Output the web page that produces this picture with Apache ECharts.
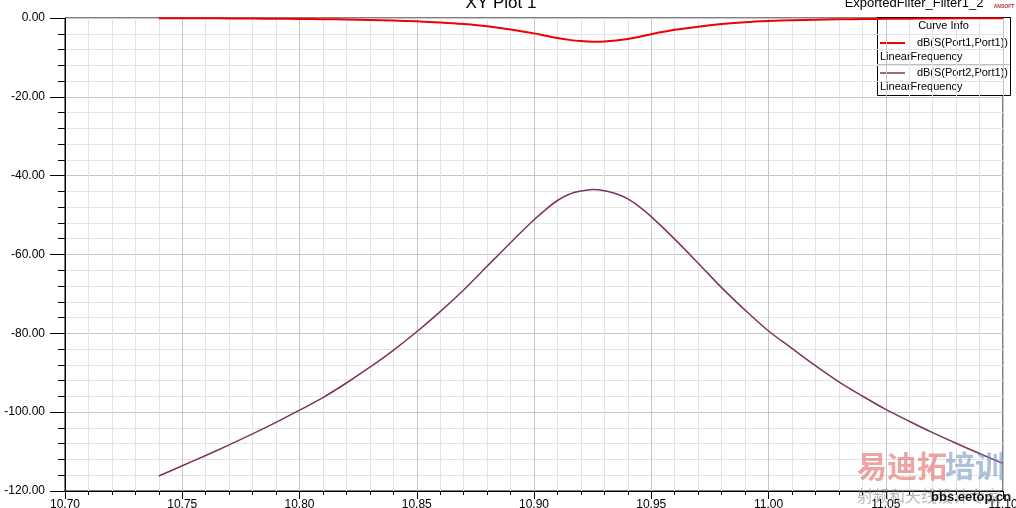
<!DOCTYPE html>
<html>
<head>
<meta charset="utf-8">
<script src="https://cdn.jsdelivr.net/npm/echarts@6/dist/echarts.min.js"></script>
<style>
  html, body { margin: 0; padding: 0; background: #fff; }
  #main { width: 1016px; height: 508px; }
</style>
</head>
<body>
<div id="main"></div>
<script>
// frequency points (GHz)
var freq = [10.74, 10.75, 10.76, 10.77, 10.78, 10.79, 10.80, 10.81, 10.82, 10.83,
  10.84, 10.85, 10.86, 10.87, 10.88, 10.89, 10.90, 10.905, 10.91, 10.915,
  10.92, 10.925, 10.93, 10.935, 10.94, 10.945, 10.95, 10.96, 10.97, 10.98,
  10.99, 11.00, 11.01, 11.02, 11.03, 11.04, 11.05, 11.06, 11.07, 11.08,
  11.09, 11.10];
// dB(S(Port1,Port1))
var s11 = [-0.05, -0.06, -0.08, -0.11, -0.14, -0.18, -0.23, -0.30, -0.38, -0.50,
  -0.64, -0.85, -1.15, -1.55, -2.1, -2.9, -3.9, -4.5, -5.1, -5.55,
  -5.85, -6.0, -5.95, -5.7, -5.3, -4.75, -4.1, -3.0, -2.2, -1.55,
  -1.05, -0.75, -0.56, -0.43, -0.34, -0.27, -0.21, -0.16, -0.12, -0.09,
  -0.07, -0.05];
// dB(S(Port2,Port1))
var s21 = [-116.2, -113.6, -111.0, -108.3, -105.5, -102.6, -99.5, -96.3, -92.6, -88.6,
  -84.3, -79.6, -74.5, -69.0, -63.0, -57.0, -51.2, -48.6, -46.3, -44.7,
  -43.9, -43.5, -43.8, -44.6, -45.9, -47.9, -50.4, -56.1, -62.2, -68.4,
  -74.1, -79.4, -83.8, -88.2, -92.3, -95.9, -99.3, -102.3, -105.2, -107.9,
  -110.5, -113.0];

var xTicks = { min: 10.70, max: 11.10, step: 0.05 };
var yTicks = { min: -120, max: 0, step: 20 };

var seriesNames = ['dB(S(Port1,Port1))', 'dB(S(Port2,Port1))'];
var seriesColors = ['#f00000', '#7b3461'];

function pairs(ys) {
  return freq.map(function (f, i) { return [f, ys[i]]; });
}

var font = 'Liberation Sans, Arial, sans-serif';
var chart = echarts.init(document.getElementById('main'));

// 图例框 (Curve Info)
var lg = { x: 877, y: 17, w: 133, h: 78 };
var legendItems = [];
legendItems.push({ type: 'rect', shape: { x: lg.x + 0.5, y: lg.y + 0.5, width: lg.w, height: lg.h },
  style: { fill: '#fff', stroke: '#000', lineWidth: 1 } });
legendItems.push({ type: 'text', x: lg.x + lg.w / 2, y: 26,
  style: { text: 'Curve Info', font: '11px ' + font, fill: '#000', align: 'center', verticalAlign: 'middle' } });
legendItems.push({ type: 'line', shape: { x1: lg.x, y1: 64.5, x2: lg.x + lg.w, y2: 64.5 },
  style: { stroke: '#c0c0c0', lineWidth: 1 } });
for (var k = 0; k < 2; k++) {
  var yy = 43 + k * 30;
  legendItems.push({ type: 'line', shape: { x1: 880, y1: yy, x2: 905, y2: yy },
    style: { stroke: seriesColors[k], lineWidth: k === 0 ? 2 : 1.5 } });
  legendItems.push({ type: 'text', x: 1008, y: yy,
    style: { text: seriesNames[k], font: '11px ' + font, fill: '#000', align: 'right', verticalAlign: 'middle' } });
  legendItems.push({ type: 'text', x: 880, y: yy + 14,
    style: { text: 'LinearFrequency', font: '11px ' + font, fill: '#000', align: 'left', verticalAlign: 'middle' } });
}

chart.setOption({
  backgroundColor: '#fff',
  animation: false,
  grid: { left: 65, right: 13, top: 18, bottom: 17, outerBoundsMode: 'none', containLabel: false,
    show: true, borderColor: '#000', borderWidth: 1 },
  xAxis: {
    type: 'value',
    min: xTicks.min, max: xTicks.max, interval: xTicks.step,
    axisLine: { onZero: false, lineStyle: { color: '#000', width: 1 } },
    axisTick: { show: true, length: 8, lineStyle: { color: '#000' } },
    minorTick: { show: true, splitNumber: 5, length: 4, lineStyle: { color: '#000' } },
    splitLine: { show: true, lineStyle: { color: '#c6c6c6', width: 1 } },
    minorSplitLine: { show: true, lineStyle: { color: '#e4e4e4', width: 1 } },
    axisLabel: { margin: 8, color: '#000', fontSize: 12, fontFamily: font,
      formatter: function (v) { return v.toFixed(2); } }
  },
  yAxis: {
    type: 'value',
    min: yTicks.min, max: yTicks.max, interval: yTicks.step,
    axisLine: { onZero: false, lineStyle: { color: '#000', width: 1 } },
    axisTick: { show: true, length: 15, lineStyle: { color: '#000' } },
    minorTick: { show: true, splitNumber: 5, length: 7, lineStyle: { color: '#000' } },
    splitLine: { show: true, lineStyle: { color: '#c6c6c6', width: 1 } },
    minorSplitLine: { show: true, lineStyle: { color: '#e4e4e4', width: 1 } },
    axisLabel: { margin: 20, color: '#000', fontSize: 12, fontFamily: font,
      formatter: function (v) { return v.toFixed(2); } }
  },
  series: [
    { name: seriesNames[0], type: 'line', data: pairs(s11), smooth: 0.3, showSymbol: false,
      lineStyle: { color: seriesColors[0], width: 2 }, z: 3 },
    { name: seriesNames[1], type: 'line', data: pairs(s21), smooth: 0.3, showSymbol: false,
      lineStyle: { color: seriesColors[1], width: 1.5 }, z: 2 }
  ],
  graphic: [
    { type: 'text', x: 501, y: 3,
      style: { text: 'XY Plot 1', font: '17px ' + font, fill: '#000', align: 'center', verticalAlign: 'middle' } },
    { type: 'text', x: 914, y: 3,
      style: { text: 'ExportedFilter_Filter1_2', font: '13px ' + font, fill: '#000', align: 'center', verticalAlign: 'middle' } },
    { type: 'text', x: 1004, y: 7,
      style: { text: 'ANSOFT', font: 'bold 5px ' + font, fill: '#b03030', align: 'center', verticalAlign: 'middle' } },
    { type: 'group', children: legendItems, z: 50 },
    // 水印
    { type: 'text', x: 857, y: 466, z: 60,
      style: { text: '易迪拓', font: 'bold 30px "Noto Sans CJK SC"', fill: 'rgba(220,90,90,0.55)', verticalAlign: 'middle' } },
    { type: 'text', x: 945, y: 466, z: 60,
      style: { text: '培训', font: 'bold 30px "Noto Sans CJK SC"', fill: 'rgba(110,140,190,0.55)', verticalAlign: 'middle' } },
    { type: 'text', x: 857, y: 496, z: 60,
      style: { text: '射频和天线设计专家', font: '16px "Noto Sans CJK SC"', fill: 'rgba(140,140,140,0.6)', verticalAlign: 'middle' } },
    { type: 'text', x: 931, y: 497, z: 61,
      style: { text: 'bbs.eetop.cn', font: 'bold 13px ' + font, fill: '#111', verticalAlign: 'middle' } }
  ]
});
</script>
</body>
</html>
